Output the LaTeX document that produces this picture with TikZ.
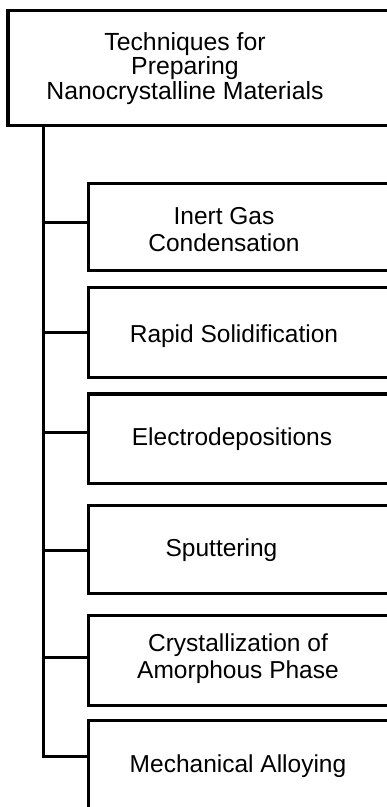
\documentclass[tikz,border=0pt]{standalone}
\usepackage{fontspec}
\setmainfont{Liberation Sans}
\begin{document}
\begin{tikzpicture}[x=1pt,y=-1pt,line width=3.2pt,
  box/.style={draw,rectangle,inner sep=0pt,outer sep=0pt,anchor=north west,minimum width=420pt},
  lbl/.style={font=\fontsize{24.5}{27.5}\selectfont,align=center,anchor=base,inner sep=0pt},
  ttl/.style={lbl,font=\fontsize{24.8}{24.5}\selectfont}]
\useasboundingbox (0,0) rectangle (387,807);
% boxes
\node[box,minimum height=114.6pt] (top) at (8,10.7) {};
\node[box,minimum height=87.4pt] (b1) at (88.7,183.3) {};
\node[box,minimum height=90pt]   (b2) at (88.7,287.3) {};
\node[box,minimum height=89.3pt] (b3) at (88.7,394) {};
\node[box,minimum height=87.6pt] (b4) at (88.7,505.7) {};
\node[box,minimum height=89.6pt] (b5) at (88.7,615.7) {};
\node[box,minimum height=150pt]  (b6) at (88.7,720.3) {};
% labels (anchor=base is the baseline of the last line)
\node[ttl] (t0) at (185,99) {Techniques for\\Preparing\\Nanocrystalline Materials};
\node[lbl] (t1) at (224,251.5) {Inert Gas\\Condensation};
\node[lbl] (t2) at (234,342.7) {Rapid Solidification};
\node[lbl] (t3) at (232,445) {Electrodepositions};
\node[lbl] (t4) at (221.5,556.7) {Sputtering};
\node[lbl] (t5) at (238,678.5) {Crystallization of\\Amorphous Phase};
\node[lbl] (t6) at (238,772.7) {Mechanical Alloying};
% junctions on the trunk
\coordinate (j1) at (43.3,222.3);
\coordinate (j2) at (43.3,332.3);
\coordinate (j3) at (43.3,432.3);
\coordinate (j4) at (43.3,550.5);
\coordinate (j5) at (43.3,657.7);
\coordinate (j6) at (43.3,756.7);
% connectors
\draw (top.south -| j6) -- (j6) -- (j6 -| b6.west);
\foreach \i in {1,...,5} {\draw (j\i) -- (j\i -| b\i.west);}
\end{tikzpicture}
\end{document}
